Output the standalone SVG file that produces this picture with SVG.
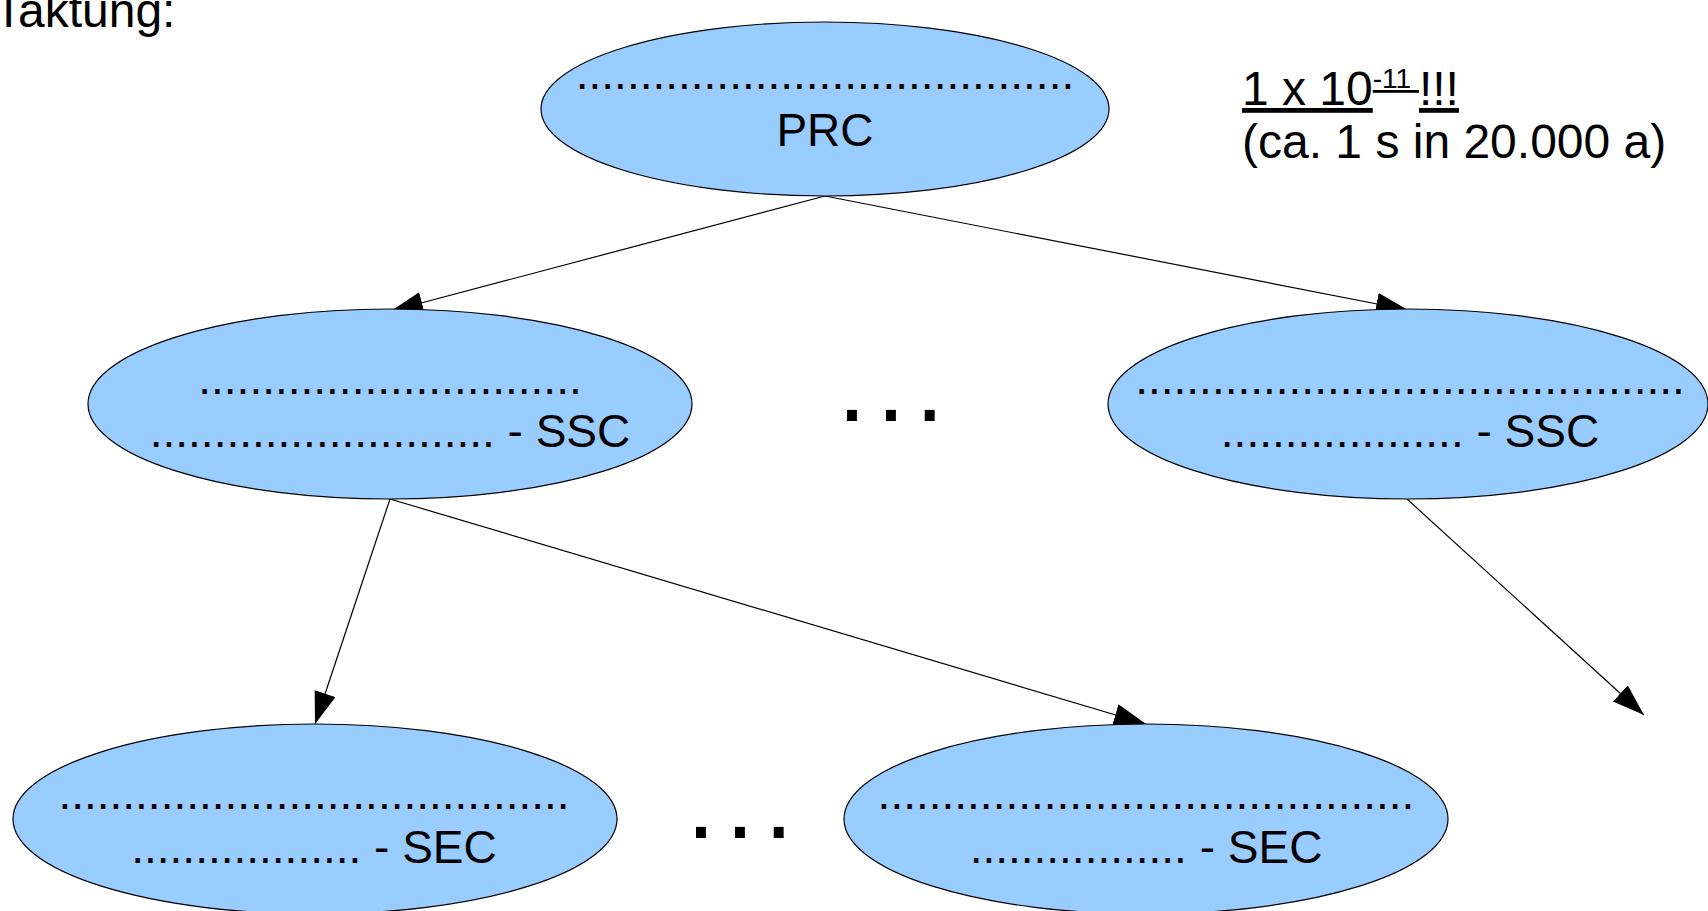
<svg xmlns="http://www.w3.org/2000/svg" width="1708" height="911" viewBox="0 0 1708 911">
<style>
.node{fill:#99ccff;stroke:#000;stroke-width:1.2}
.t{font-family:"Liberation Sans",Arial,sans-serif;font-size:46px;fill:#000}
.n{font-size:48px}
.c{text-anchor:middle}
.big{font-family:"Liberation Sans",Arial,sans-serif;font-size:104px;letter-spacing:10px;fill:#000}
.edge{stroke:#000;stroke-width:1.2;fill:none;marker-end:url(#ah)}
</style>
<defs>
<marker id="ah" markerUnits="userSpaceOnUse" markerWidth="34" markerHeight="24" refX="32" refY="11" orient="auto">
<path d="M0,0 L32,11 L0,22 Z" fill="#000"/>
</marker>
</defs>
<rect width="1708" height="911" fill="#fff"/>
<text class="t n" x="-6" y="27">Taktung:</text>
<g id="connectors">
<line class="edge" x1="825" y1="196" x2="391" y2="311"/>
<line class="edge" x1="825" y1="196" x2="1408" y2="310"/>
<line class="edge" x1="390" y1="499" x2="315" y2="724"/>
<line class="edge" x1="390" y1="499" x2="1146" y2="724"/>
<line class="edge" x1="1407" y1="499" x2="1644" y2="715"/>
</g>
<g id="prc">
<ellipse class="node" cx="825" cy="109" rx="284" ry="87"/>
<text class="t c" x="825" y="89">.......................................</text>
<text class="t c" x="825" y="146" font-size="47">PRC</text>
</g>
<g id="note">
<text class="t n" x="1242" y="105"><tspan text-decoration="underline">1 x 10</tspan><tspan font-size="28" dy="-17" text-decoration="underline">-11 </tspan><tspan dy="17" text-decoration="underline">!!!</tspan></text>
<text class="t n" x="1242" y="158">(ca. 1 s in 20.000 a)</text>
</g>
<g id="ssc-left">
<ellipse class="node" cx="390" cy="404" rx="302" ry="95"/>
<text class="t c" x="390" y="394">..............................</text>
<text class="t c" x="390" y="447">........................... - SSC</text>
</g>
<g id="ssc-right">
<ellipse class="node" cx="1408" cy="404" rx="300" ry="95"/>
<text class="t c" x="1410" y="394">...........................................</text>
<text class="t c" x="1410" y="447">................... - SSC</text>
</g>
<g id="ellipsis-mid">
<text class="big" x="837.5" y="421">...</text>
</g>
<g id="sec-left">
<ellipse class="node" cx="315" cy="819" rx="302" ry="95"/>
<text class="t c" x="314" y="809">........................................</text>
<text class="t c" x="314" y="863">.................. - SEC</text>
</g>
<g id="sec-right">
<ellipse class="node" cx="1146" cy="819" rx="302" ry="95"/>
<text class="t c" x="1146" y="809">..........................................</text>
<text class="t c" x="1146" y="863">................. - SEC</text>
</g>
<g id="ellipsis-bottom">
<text class="big" x="686.5" y="838">...</text>
</g>
</svg>
